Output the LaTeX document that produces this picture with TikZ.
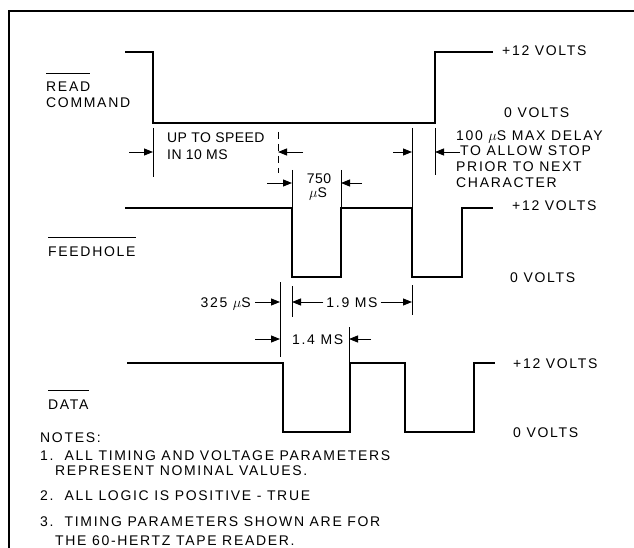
\documentclass[tikz,border=0pt]{standalone}
\usepackage{fontspec}
\setmainfont{Liberation Sans}[LetterSpace=12]
\usetikzlibrary{arrows.meta}

\tikzset{
  sig/.style={line width=1.7pt, line join=miter},
  tck/.style={line width=0.9pt},
  dimarr/.style={line width=0.9pt, -{Triangle[length=9pt,width=7pt]}},
  lbl/.style={anchor=west, inner sep=0pt, text height=10pt, text depth=0pt,
    font=\fontsize{14}{15}\selectfont},
  tight/.style={font=\fontsize{14}{15}\selectfont\addfontfeatures{LetterSpace=3}},
  bar/.style={line width=0.9pt},
}

\begin{document}
\begin{tikzpicture}[x=1pt, y=-1pt]
  \useasboundingbox (0,0) rectangle (634,548);
  % frame
  \draw[line width=1.6pt] (634,11) -- (9,11) -- (9,548);

  % signals
  \draw[sig] (125,52) -| (153,123) -| (435,52) -- (493,52);
  \draw[sig] (125,208) -| (292,277) -| (341,208) -| (412,277) -| (462,208) -- (493,208);
  \draw[sig] (127,363) -| (283,432) -| (350,363) -| (405,432) -| (474,363) -- (495,363);

  % signal names
  \node[lbl] (rdA) at (46,87) {READ};
  \node[lbl] (rdB) at (46,103) {COMMAND};
  \draw[bar] ([yshift=8pt]rdA.north west) -- ([yshift=8pt]rdA.north east);
  \node[lbl] (fh) at (48,251) {FEEDHOLE};
  \draw[bar] ([yshift=8pt]fh.north west) -- ([yshift=8pt]fh.north east);
  \node[lbl] (dt) at (48,404) {DATA};
  \draw[bar] ([yshift=8pt]dt.north west) -- ([yshift=8pt]dt.north east);

  % levels
  \node[lbl] (rdhi) at (502,51) {+12 VOLTS};
  \node[lbl] (rdlo) at (504,113) {0 VOLTS};
  \node[lbl] (fhhi) at (512,206) {+12 VOLTS};
  \node[lbl] (fhlo) at (510,277) {0 VOLTS};
  \node[lbl] (dthi) at (513,363) {+12 VOLTS};
  \node[lbl] (dtlo) at (513,432) {0 VOLTS};

  % up to speed
  \draw[tck] (153,128) -- (153,177);
  \draw[tck, dashed, dash pattern=on 7pt off 5pt] (278,132) -- (278,173);
  \draw[dimarr] (129,152) -- (153,152);
  \draw[dimarr] (303,152) -- (278,152);
  \node[lbl, tight] (spdA) at (167,138) {UP TO SPEED};
  \node[lbl, tight] (spdB) at (167,155) {IN 10 MS};

  % 750 us
  \draw[tck] (292,170) -- (292,208);
  \draw[tck] (341,170) -- (341,208);
  \draw[dimarr] (267,183) -- (292,183);
  \draw[dimarr] (362,183) -- (341,183);
  \node[lbl, tight, anchor=center] (pwA) at (319,178) {750};
  \node[lbl, tight, anchor=center] (pwB) at (318,192) {$\mu$S};

  % 100 us delay
  \draw[tck] (412,128) -- (412,208);
  \draw[tck] (435,128) -- (435,175);
  \draw[dimarr] (393,152) -- (412,152);
  \draw[dimarr] (460,152) -- (435,152);
  \node[lbl] (dlA) at (456,136) {100 $\mu$S MAX DELAY};
  \node[lbl] (dlB) at (460,151) {TO ALLOW STOP};
  \node[lbl] (dlC) at (456,167) {PRIOR TO NEXT};
  \node[lbl] (dlD) at (456,182) {CHARACTER};

  % 325 us / 1.9 ms
  \draw[tck] (280,282) -- (280,357);
  \draw[tck] (292,286) -- (292,317);
  \draw[tck] (412,285) -- (412,315);
  \draw[dimarr] (255,302) -- (280,302);
  \node[lbl, anchor=east] (skw) at (251,302) {325 $\mu$S};
  \node[lbl, anchor=center] (per) at (352,302) {1.9 MS};
  \draw[dimarr] (per.west) ++(-3,0) -- (292,302);
  \draw[dimarr] (per.east) ++(3,0) -- (412,302);

  % 1.4 ms
  \draw[tck] (349,327) -- (349,363);
  \draw[dimarr] (255,339) -- (280,339);
  \draw[dimarr] (371,339) -- (349,339);
  \node[lbl] (dtw) at (292,339) {1.4 MS};

  % notes
  \node[lbl] (nt) at (40,437) {NOTES:};
  \node[lbl] (ntA) at (40,455) {1.\ \ ALL TIMING AND VOLTAGE PARAMETERS};
  \node[lbl] (ntB) at (55,470) {REPRESENT NOMINAL VALUES.};
  \node[lbl] (ntC) at (40,495) {2.\ \ ALL LOGIC IS POSITIVE - TRUE};
  \node[lbl] (ntD) at (40,521) {3.\ \ TIMING PARAMETERS SHOWN ARE FOR};
  \node[lbl] (ntE) at (55,540) {THE 60-HERTZ TAPE READER.};
\end{tikzpicture}
\end{document}
